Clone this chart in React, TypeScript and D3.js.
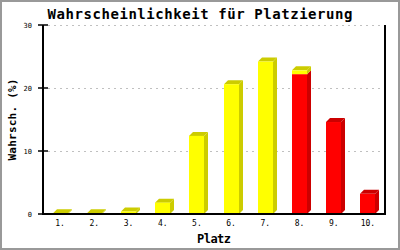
import React from "react";
import * as d3 from "d3";

const categories = ["1.", "2.", "3.", "4.", "5.", "6.", "7.", "8.", "9.", "10."];
const yellowValues = [0.1, 0.1, 0.4, 1.8, 12.4, 20.6, 24.2, 0.6, 0, 0];
const redValues = [0, 0, 0, 0, 0, 0, 0, 22.2, 14.6, 3.2];
const yTicks = [0, 10, 20, 30];

const W = 400;
const H = 250;
const left = 43;
const right = 385;
const top = 25;
const bottom = 214;
const barW = 15;
const depth = 4;
const mono = "'DejaVu Sans Mono', 'Liberation Mono', monospace";

export default function App() {
  const x = d3.scaleBand<string>().domain(categories).range([left, right]).padding(0);
  const y = d3.scaleLinear().domain([0, 30]).range([bottom, top]);

  const series = [
    { values: redValues, front: "#ff0000", dark: "#cc0000" },
    { values: yellowValues, front: "#ffff00", dark: "#cccc00" },
  ];

  const bars: React.ReactNode[] = [];
  categories.forEach((c, i) => {
    const cx = (x(c) as number) + x.bandwidth() / 2;
    const x0 = Math.round(cx - barW / 2);
    const x1 = x0 + barW;
    let base = 0;
    const segs: { y0: number; y1: number; front: string; dark: string }[] = [];
    series.forEach((s) => {
      const v = s.values[i];
      if (v > 0) {
        segs.push({ y0: base, y1: base + v, front: s.front, dark: s.dark });
        base += v;
      }
    });
    segs.forEach((sg, j) => {
      const yb = y(sg.y0);
      const yt = y(sg.y1);
      const isTop = j === segs.length - 1;
      bars.push(
        <g key={`${c}-${j}`}>
          <polygon
            points={`${x1},${yb} ${x1 + depth},${yb - depth} ${x1 + depth},${yt - depth} ${x1},${yt}`}
            fill={sg.dark}
          />
          {isTop && (
            <polygon
              points={`${x0},${yt} ${x0 + depth},${yt - depth} ${x1 + depth},${yt - depth} ${x1},${yt}`}
              fill={sg.dark}
            />
          )}
          <rect x={x0} y={yt} width={barW} height={yb - yt} fill={sg.front} />
        </g>
      );
    });
  });

  return (
    <svg
      width={W}
      height={H}
      style={{ position: "absolute", left: 0, top: 0, background: "#fff" }}
    >
      <rect x={1} y={1} width={W - 2} height={H - 2} fill="#fff" stroke="#999" strokeWidth={2} />
      <text
        x={200}
        y={19}
        textAnchor="middle"
        fontFamily={mono}
        fontWeight="bold"
        fontSize={14}
        textLength={305}
        lengthAdjust="spacing"
      >
        Wahrscheinlichkeit für Platzierung
      </text>
      {yTicks.filter((t) => t > 0).map((t) => (
        <line
          key={`g${t}`}
          x1={left + 5}
          x2={right}
          y1={y(t)}
          y2={y(t)}
          stroke="#c0c0c0"
          strokeDasharray="2,4"
          shapeRendering="crispEdges"
        />
      ))}
      {bars}
      <line x1={left} x2={left} y1={top} y2={bottom} stroke="#000" strokeWidth={2} />
      <line x1={right} x2={right} y1={top} y2={bottom + 1} stroke="#000" strokeWidth={2} />
      <line x1={left - 1} x2={right + 1} y1={bottom} y2={bottom} stroke="#000" strokeWidth={2} />
      {yTicks.map((t) => (
        <g key={`t${t}`}>
          <line x1={38} x2={48} y1={y(t)} y2={y(t)} stroke="#000" strokeWidth={1.5} />
          <text x={32} y={y(t) + 2.5} textAnchor="end" fontFamily={mono} fontSize={7}>
            {t}
          </text>
        </g>
      ))}
      {categories.map((c) => (
        <text
          key={`x${c}`}
          x={(x(c) as number) + x.bandwidth() / 2}
          y={226}
          textAnchor="middle"
          fontFamily={mono}
          fontSize={8}
        >
          {c}
        </text>
      ))}
      <text
        x={214}
        y={243}
        textAnchor="middle"
        fontFamily={mono}
        fontWeight="bold"
        fontSize={12}
        textLength={34}
        lengthAdjust="spacing"
      >
        Platz
      </text>
      <text
        transform={`translate(16,${(top + bottom) / 2}) rotate(-90)`}
        textAnchor="middle"
        fontFamily={mono}
        fontWeight="bold"
        fontSize={11}
        textLength={82}
        lengthAdjust="spacing"
      >
        Wahrsch. (%)
      </text>
    </svg>
  );
}
